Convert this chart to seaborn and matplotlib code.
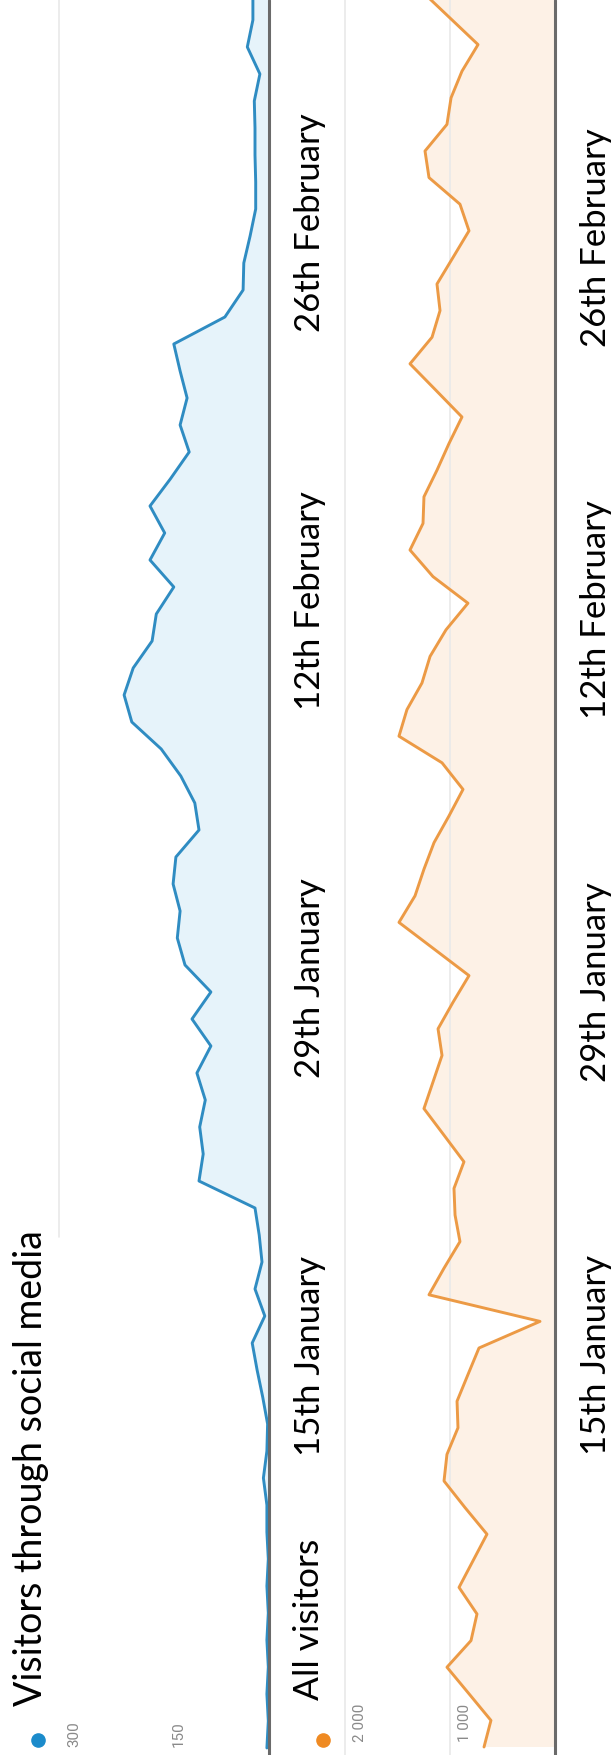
import numpy as np
import pandas as pd
import matplotlib
matplotlib.use("Agg")
import matplotlib.pyplot as plt
from matplotlib import transforms
import seaborn as sns

# ---------------- data (daily values, starting 1 January) ----------------
social_visitors = [3, 1, 3, 1, 3, 1, 3, 1, 3, 3, 8, 3, 2, 9, 17, 24, 6, 20, 10, 14,
                   20, 100, 94, 99, 91, 103, 83, 110, 83, 120, 131, 127, 137, 133, 100, 106,
                   126, 154, 196, 207, 194, 167, 161, 136, 170, 149, 170, 141, 114, 127,
                   117, 127, 136, 63, 37, 36, 27, 19, 19, 20, 20, 21, 13, 31, 23, 23, 23]
all_visitors = [676, 610, 819, 1029, 800, 743, 914, 781, 648, 857,
                1057, 1029, 924, 933, 829, 724, 143, 1200, 1057, 905,
                952, 962, 867, 1057, 1248, 1162, 1076, 1114, 971, 819,
                1152, 1486, 1333, 1248, 1152, 1010, 876, 1076, 1486, 1410,
                1267, 1190, 1038, 829, 1162, 1381, 1257, 1248, 1124, 1010,
                886, 1133, 1381, 1171, 1095, 1124, 971, 819, 905, 1200,
                1238, 1029, 990, 886, 733, 1000, 1267]
dates = pd.date_range("2015-01-01", periods=len(all_visitors), freq="D")
date_labels = ["15th January", "29th January", "12th February", "26th February"]
date_ticks = pd.to_datetime(["2015-01-15", "2015-01-29", "2015-02-12", "2015-02-26"])
social_ticks = [300, 150]
social_tick_labels = ["300", "150"]
all_ticks = [2000, 1000]
all_tick_labels = ["2 000", "1 000"]
series_names = ["Visitors through social media", "All visitors"]

days = np.asarray((dates - dates[0]).days, dtype=float)
tick_days = np.asarray((date_ticks - dates[0]).days, dtype=float)
df_social = pd.DataFrame({"day": days[:len(social_visitors)], "value": social_visitors})
df_all = pd.DataFrame({"day": days, "value": all_visitors})

# ---------------- style ----------------
sns.set_theme(style="white")
plt.rcParams["font.family"] = ["Lato", "DejaVu Sans"]

W, H = 612, 1755
fig = plt.figure(figsize=(W / 100, H / 100), dpi=100)
fig.patch.set_facecolor("white")

BLUE = "#2f8cc2"
BLUE_FILL = "#e6f3fa"
ORANGE = "#ec9a45"
ORANGE_FILL = "#fdf1e6"
BASE = "#6a6a6a"
GRID = "#e9e9e9"
TICK = "#8a8a8a"

def fx(px):
    return px / W

def fy(py):
    return 1 - py / H

# top panel: baseline at x=269px, 0.70 px per visitor, 27.0 px per day
ax1 = fig.add_axes([0, 0, fx(269), 1])
ax1.set_xlim(269 / 0.70, 0)
ax1.set_ylim((1748 - 1755) / 27.0, 1748 / 27.0)
# bottom panel: baseline at x=555px, 0.105 px per visitor, 26.6 px per day
x0b = 280
ax2 = fig.add_axes([fx(x0b), 0, fx(555 - x0b), 1])
ax2.set_xlim((555 - x0b) / 0.105, 0)
ax2.set_ylim((1747 - 1755) / 26.6, 1747 / 26.6)

for ax in (ax1, ax2):
    ax.set_facecolor("none")
    for s in ax.spines.values():
        s.set_visible(False)
    ax.set_xticks([])
    ax.set_yticks([])

# gridlines
ax1.axvline(social_ticks[0], ymin=fy(1237), ymax=1, color=GRID, lw=1.2, zorder=0)
for t in all_ticks:
    ax2.axvline(t, color=GRID, lw=1.2, zorder=3 if t == 1000 else 0)

# areas
ax1.fill_betweenx(df_social["day"], 0, df_social["value"], color=BLUE_FILL, lw=0, zorder=1)
ax2.fill_betweenx(df_all["day"], 0, df_all["value"], color=ORANGE_FILL, lw=0, zorder=1)
sns.lineplot(data=df_social, x="value", y="day", orient="y", sort=True, estimator=None,
             color=BLUE, lw=2.1, ax=ax1, zorder=4)
sns.lineplot(data=df_all, x="value", y="day", orient="y", sort=True, estimator=None,
             color=ORANGE, lw=2.1, ax=ax2, zorder=4)

# baselines
ax1.axvline(0, color=BASE, lw=2.2, zorder=5, clip_on=False)
ax2.axvline(0, color=BASE, lw=2.2, zorder=5, clip_on=False)

for ax in (ax1, ax2):
    ax.set_xlabel("")
    ax.set_ylabel("")

# value tick labels (grey, rotated)
for ax, ticks, labels, start in ((ax1, social_ticks, social_tick_labels, 1747),
                                 (ax2, all_ticks, all_tick_labels, 1742)):
    tr = transforms.blended_transform_factory(ax.transData, fig.transFigure) + \
        transforms.ScaledTranslation(0.19, 0, fig.dpi_scale_trans)
    for t, lab in zip(ticks, labels):
        ax.text(t, fy(start), lab, transform=tr, rotation=90, rotation_mode="anchor",
                ha="left", va="baseline", fontsize=11, color=TICK,
                family=["Roboto", "DejaVu Sans"])

# date labels
for ax, xpx, off in ((ax1, 320, 0.5), (ax2, 606, 0.75)):
    tr = transforms.blended_transform_factory(fig.transFigure, ax.transData)
    for d, lab in zip(tick_days, date_labels):
        ax.text(fx(xpx), d + off, lab, transform=tr, rotation=90, rotation_mode="anchor",
                ha="center", va="baseline", fontsize=25, color="black")

# series titles with coloured dots
fig.text(fx(42), fy(1706), series_names[0], rotation=90, rotation_mode="anchor",
         ha="left", va="baseline", fontsize=27, color="black")
fig.text(fx(319), fy(1700), series_names[1], rotation=90, rotation_mode="anchor",
         ha="left", va="baseline", fontsize=25.5, color="black")
ax1.plot([fx(38)], [fy(1740)], marker="o", ms=9.5, color="#1b8bcb", transform=fig.transFigure,
         clip_on=False, zorder=6)
ax1.plot([fx(323)], [fy(1740)], marker="o", ms=9.5, color="#ef8a22", transform=fig.transFigure,
         clip_on=False, zorder=6)

fig.savefig("out.png", dpi=100, facecolor="white")
